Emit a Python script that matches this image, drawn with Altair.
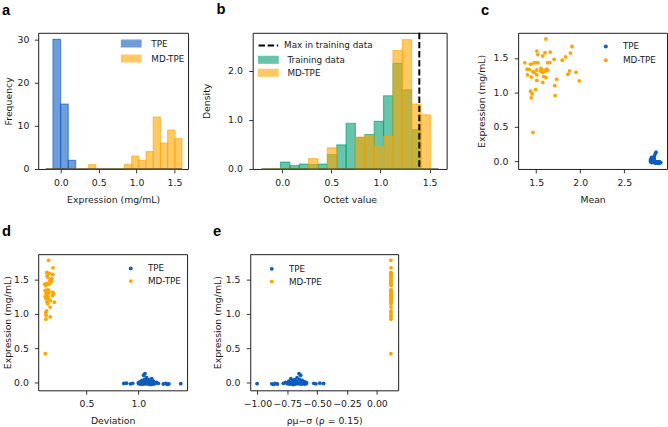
import altair as alt
import pandas as pd

# ---------------- data ----------------
# panel a : histogram of expression (counts)
A_SERIES = ["TPE", "TPE", "TPE",
            "MD-TPE", "MD-TPE", "MD-TPE", "MD-TPE", "MD-TPE", "MD-TPE", "MD-TPE", "MD-TPE", "MD-TPE"]
A_START = [-0.105, -0.004, 0.097, 0.367, 0.840, 0.935, 1.030, 1.125, 1.220, 1.315, 1.410, 1.505]
A_END = [-0.004, 0.097, 0.195, 0.462, 0.935, 1.030, 1.125, 1.220, 1.315, 1.410, 1.505, 1.600]
A_COUNT = [30, 15, 2, 1, 1, 3, 2, 4, 12, 6, 9, 7]
A_BASE = [-0.20, 1.60]

# panel b : octet value densities
TR_START = [-0.017, 0.078, 0.174, 0.269, 0.364, 0.460, 0.555, 0.650, 0.745, 0.841, 0.936, 1.031, 1.127, 1.222, 1.317]
TR_END = [0.078, 0.174, 0.269, 0.364, 0.460, 0.555, 0.650, 0.745, 0.841, 0.936, 1.031, 1.127, 1.222, 1.317, 1.412]
TR_DENS = [0.14, 0.07, 0.10, 0.09, 0.10, 0.29, 0.49, 0.93, 0.64, 0.70, 0.97, 1.49, 2.15, 1.61, 0.80]
MB_START = [0.269, 0.460, 0.745, 0.841, 0.936, 1.031, 1.127, 1.222, 1.317, 1.412]
MB_END = [0.364, 0.555, 0.841, 0.936, 1.031, 1.127, 1.222, 1.317, 1.412, 1.508]
MB_DENS = [0.21, 0.43, 0.65, 0.68, 0.45, 0.66, 2.41, 2.63, 1.32, 1.10]
B_MAX = 1.395
B_BASE = [-0.21, 1.59]

# panels c, d, e : TPE points
TPE_EXPR = [-0.015, -0.010, -0.020, -0.012, -0.018, 0.005, -0.022, 0.012, -0.008, 0.030,
            -0.025, 0.020, 0.105, -0.015, 0.045, 0.130, -0.020, 0.008, -0.010, 0.070,
            -0.018, 0.015, -0.012, 0.040, -0.022, 0.002, -0.016, 0.025, -0.008, 0.010,
            -0.020, 0.055, -0.014, -0.025, 0.018, -0.010, -0.018, 0.000, -0.012, -0.022,
            -0.015, -0.028, -0.020, -0.018, -0.005, -0.030, 0.035]
TPE_MEAN = [2.89, 2.88, 2.90, 2.86, 2.84, 2.81, 2.85, 2.80, 2.82, 2.81,
            2.87, 2.82, 2.85, 2.83, 2.82, 2.86, 2.81, 2.83, 2.80, 2.84,
            2.86, 2.81, 2.82, 2.83, 2.88, 2.82, 2.85, 2.80, 2.81, 2.83,
            2.84, 2.81, 2.83, 2.89, 2.82, 2.81, 2.87, 2.80, 2.88, 2.91,
            2.90, 2.89, 2.91, 2.91, 2.82, 2.86, 2.84]
TPE_DEV = [0.861, 0.886, 0.924, 0.946, 1.003, 1.010, 1.019, 1.025, 1.030, 1.035,
           1.040, 1.045, 1.051, 1.055, 1.060, 1.064, 1.067, 1.072, 1.075, 1.080,
           1.082, 1.088, 1.092, 1.098, 1.100, 1.105, 1.110, 1.114, 1.118, 1.122,
           1.126, 1.130, 1.135, 1.140, 1.146, 1.150, 1.160, 1.175, 1.193, 1.241,
           1.266, 1.282, 1.295, 1.409, 1.000, 1.120, 1.090]
TPE_ACQ = [-0.446, -0.477, -0.510, -0.528, -0.592, -0.597, -0.605, -0.612, -0.619, -0.625,
           -0.630, -0.633, -0.638, -0.642, -0.648, -0.652, -0.655, -0.660, -0.664, -0.668,
           -0.672, -0.676, -0.680, -0.684, -0.688, -0.692, -0.697, -0.701, -0.706, -0.710,
           -0.715, -0.720, -0.725, -0.729, -0.737, -0.745, -0.750, -0.765, -0.783, -0.833,
           -0.852, -0.865, -0.879, -1.003, -0.588, -0.700, -0.695]

# MD-TPE points
MD_EXPR = [1.776, 1.600, 1.548, 1.586, 1.576, 1.429, 1.410, 1.429, 1.434, 1.429,
           1.529, 1.429, 1.434, 1.481, 1.467, 1.515, 1.572, 1.667, 1.339, 1.301,
           1.325, 1.348, 1.320, 1.339, 1.320, 1.301, 1.292, 1.254, 1.225, 1.254,
           1.230, 1.173, 1.144, 1.192, 1.263, 1.311, 1.292, 1.168, 1.097, 1.016,
           0.978, 1.040, 0.921, 0.954, 0.418, 1.311, 1.287, 1.216, 1.334]
MD_MEAN = [1.611, 1.507, 1.519, 1.659, 1.600, 1.370, 1.437, 1.474, 1.496, 1.519,
           1.574, 1.630, 1.656, 1.704, 1.796, 1.833, 1.889, 1.907, 1.396, 1.463,
           1.507, 1.556, 1.593, 1.619, 1.630, 1.600, 1.574, 1.400, 1.444, 1.507,
           1.585, 1.507, 1.574, 1.733, 1.859, 1.878, 1.952, 1.989, 1.711, 1.437,
           1.452, 1.493, 1.444, 1.715, 1.463, 1.548, 1.481, 1.611, 1.422]
MD_DEV = [0.135, 0.118, 0.120, 0.141, 0.132, 0.099, 0.108, 0.114, 0.117, 0.120,
          0.128, 0.137, 0.141, 0.148, 0.162, 0.167, 0.176, 0.178, 0.102, 0.112,
          0.118, 0.126, 0.131, 0.135, 0.137, 0.132, 0.128, 0.103, 0.109, 0.118,
          0.130, 0.118, 0.128, 0.152, 0.171, 0.174, 0.185, 0.191, 0.149, 0.108,
          0.110, 0.116, 0.109, 0.150, 0.104, 0.124, 0.114, 0.134, 0.106]
MD_ACQ = [0.117, 0.118, 0.118, 0.118, 0.118, 0.117, 0.118, 0.117, 0.117, 0.118,
          0.118, 0.118, 0.117, 0.118, 0.117, 0.118, 0.117, 0.118, 0.118, 0.117,
          0.118, 0.117, 0.118, 0.118, 0.117, 0.118, 0.118, 0.117, 0.118, 0.118,
          0.118, 0.118, 0.118, 0.118, 0.118, 0.118, 0.118, 0.117, 0.118, 0.118,
          0.118, 0.118, 0.118, 0.117, 0.117, 0.118, 0.118, 0.118, 0.117]

# ---------------- styles ----------------
BLUE = "#0f5cbf"
ORANGE = "#ffa500"
GREEN = "#009e73"
INK = "#1a1a1a"
FONT = "DejaVu Sans"
PATCH = "M-2,-0.7H2V0.7H-2Z"   # 20 x 7 px patch at symbolSize 100


def letter(t, dx, offset):
    return alt.TitleParams(t, anchor="start", frame="group", dx=dx, offset=offset,
                           fontSize=15, fontWeight="bold", font="Liberation Sans",
                           color="black", baseline="top")


def patch_legend(x, y, rowpad, loff):
    return alt.Legend(title=None, orient="none", legendX=x, legendY=y,
                      symbolType=PATCH, symbolSize=100, symbolStrokeWidth=1.2,
                      symbolOpacity=0.6,
                      labelFontSize=9, labelFont=FONT, labelColor=INK,
                      labelOffset=loff, rowPadding=rowpad, padding=0)


def dot_legend(x, y, rowpad=4):
    return alt.Legend(title=None, orient="none", legendX=x, legendY=y,
                      symbolType="circle", symbolSize=16, symbolStrokeWidth=0,
                      labelFontSize=9, labelFont=FONT, labelColor=INK,
                      labelOffset=13, rowPadding=rowpad, padding=0)


# ---------------- panel a ----------------
df_a = pd.DataFrame({"series": A_SERIES, "start": A_START, "end": A_END, "count": A_COUNT})
sc_a = alt.Scale(domain=["TPE", "MD-TPE"], range=[BLUE, ORANGE])
leg_a = patch_legend(89, 5, 3.3, 14.5)
xa = alt.X("start:Q", scale=alt.Scale(domain=[-0.3, 1.68], nice=False, zero=False),
           axis=alt.Axis(values=[0, 0.5, 1.0, 1.5], format=".1f", title="Expression (mg/mL)"))
ya = alt.Y("count:Q", scale=alt.Scale(domain=[0, 31.5], nice=False),
           axis=alt.Axis(values=[0, 5, 10, 15, 20, 25, 30], format="d", title="Frequency",
                         titlePadding=4, labelPadding=5.5))
bars_a = alt.Chart(df_a).mark_bar(fillOpacity=0.6, strokeOpacity=0.6, strokeWidth=1.2).encode(
    x=xa, x2="end:Q", y=ya, y2=alt.datum(0),
    color=alt.Color("series:N", scale=sc_a, legend=leg_a),
    stroke=alt.Stroke("series:N", scale=sc_a, legend=leg_a))
base_a = alt.Chart(pd.DataFrame({"x0": [A_BASE[0]], "x1": [A_BASE[1]], "y0": [0]})).mark_rule(
    color="#5c5030", strokeWidth=1.3).encode(x="x0:Q", x2="x1:Q", y="y0:Q")
chart_a = alt.layer(bars_a, base_a).properties(width=153, height=139, title=letter("a", -37, 15))

# ---------------- panel b ----------------
df_b = pd.DataFrame({
    "series": ["Training data"] * len(TR_START) + ["MD-TPE"] * len(MB_START),
    "start": TR_START + MB_START, "end": TR_END + MB_END, "dens": TR_DENS + MB_DENS})
sc_b = alt.Scale(domain=["Training data", "MD-TPE"], range=[GREEN, ORANGE])
leg_b = patch_legend(10, 21.5, 1.3, 13.5)
xb = alt.X("start:Q", scale=alt.Scale(domain=[-0.3, 1.673], nice=False, zero=False),
           axis=alt.Axis(values=[0, 0.5, 1.0, 1.5], format=".1f", title="Octet value"))
yb = alt.Y("dens:Q", scale=alt.Scale(domain=[0, 2.77], nice=False),
           axis=alt.Axis(values=[0, 0.5, 1.0, 1.5, 2.0, 2.5], format=".1f", title="Density",
                         titlePadding=17))
bars_b = alt.Chart(df_b).mark_bar(fillOpacity=0.6, strokeOpacity=0.6, strokeWidth=1.2).encode(
    x=xb, x2="end:Q", y=yb, y2=alt.datum(0),
    color=alt.Color("series:N", scale=sc_b, legend=leg_b),
    stroke=alt.Stroke("series:N", scale=sc_b, legend=leg_b))
base_b = alt.Chart(pd.DataFrame({"x0": [B_BASE[0]], "x1": [B_BASE[1]], "y0": [0]})).mark_rule(
    color="#5e6630", strokeWidth=1.3).encode(x="x0:Q", x2="x1:Q", y="y0:Q")
max_b = alt.Chart(pd.DataFrame({"xm": [B_MAX], "lab": ["Max in training data"]})).mark_rule(
    color="black", strokeWidth=2).encode(
    x="xm:Q",
    strokeDash=alt.StrokeDash("lab:N", scale=alt.Scale(domain=["Max in training data"], range=[[6.5, 2.8]]),
                              legend=alt.Legend(title=None, orient="none", legendX=5, legendY=2,
                                                symbolSize=400, symbolStrokeWidth=2,
                                                symbolStrokeColor="black",
                                                labelFontSize=9, labelFont=FONT, labelColor=INK,
                                                labelOffset=5, padding=0)))
chart_b = alt.layer(bars_b, base_b, max_b).properties(width=198, height=139, title=letter("b", -37, 15))

# ---------------- scatter panels ----------------
n_t, n_m = len(TPE_EXPR), len(MD_EXPR)
df_s = pd.DataFrame({
    "series": ["TPE"] * n_t + ["MD-TPE"] * n_m,
    "expr": TPE_EXPR + MD_EXPR,
    "mean": TPE_MEAN + MD_MEAN,
    "dev": TPE_DEV + MD_DEV,
    "acq": TPE_ACQ + MD_ACQ})
sc_s = alt.Scale(domain=["TPE", "MD-TPE"], range=[BLUE, ORANGE])


def y_expr(tp, lp=6.5):
    return alt.Y("expr:Q", scale=alt.Scale(domain=[-0.114, 1.866], nice=False, zero=False),
                 axis=alt.Axis(values=[0, 0.5, 1.0, 1.5], format=".1f", title="Expression (mg/mL)",
                               titlePadding=tp, labelPadding=lp))


chart_c = alt.Chart(df_s).mark_circle(size=15, opacity=1).encode(
    x=alt.X("mean:Q", scale=alt.Scale(domain=[1.295, 2.985], nice=False, zero=False),
            axis=alt.Axis(values=[1.5, 2.0, 2.5], format=".1f", title="Mean")),
    y=y_expr(6.5),
    color=alt.Color("series:N", scale=sc_s, legend=dot_legend(85, 9.5))
).properties(width=152, height=139, title=letter("c", -38, 15))

chart_d = alt.Chart(df_s).mark_circle(size=15, opacity=1).encode(
    x=alt.X("dev:Q", scale=alt.Scale(domain=[0.035, 1.47], nice=False, zero=False),
            axis=alt.Axis(values=[0.5, 1.0], format=".1f", title="Deviation")),
    y=y_expr(1.5, 6),
    color=alt.Color("series:N", scale=sc_s, legend=dot_legend(90, 10, 3))
).properties(width=152, height=139, title=letter("d", -37, 16))

chart_e = alt.Chart(df_s).mark_circle(size=15, opacity=1).encode(
    x=alt.X("acq:Q", scale=alt.Scale(domain=[-1.06, 0.178], nice=False, zero=False),
            axis=alt.Axis(values=[-1.0, -0.75, -0.5, -0.25, 0.0], format=".2f",
                          title="ρμ−σ (ρ = 0.15)")),
    y=y_expr(2.5),
    color=alt.Color("series:N", scale=sc_s, legend=dot_legend(17.5, 10.5, 3))
).properties(width=151, height=139, title=letter("e", -38, 16))

RES = dict(color="independent", stroke="independent", strokeDash="independent")

row1 = alt.hconcat(
    alt.hconcat(chart_a, chart_b, spacing=11).resolve_scale(**RES),
    chart_c, spacing=29).resolve_scale(**RES)
row2 = alt.hconcat(chart_d, chart_e, spacing=24.5).resolve_scale(**RES)

chart = alt.vconcat(row1, row2, spacing=19).resolve_scale(**RES).properties(
    padding={"left": 1, "top": -3, "right": 0, "bottom": 0}
).configure_view(stroke=INK, strokeWidth=1).configure_axis(
    labelFont=FONT, titleFont=FONT, labelFontSize=9.5, titleFontSize=9.5,
    labelColor=INK, titleColor=INK, titleFontWeight="normal", labelOverlap=False,
    tickColor=INK, tickSize=4, tickWidth=0.9, domain=False, grid=False
).configure_axisX(titlePadding=7.5, labelPadding=5).configure_axisY(labelPadding=6.5)

chart.save("out.html", embed_options={"renderer": "svg", "actions": False})
